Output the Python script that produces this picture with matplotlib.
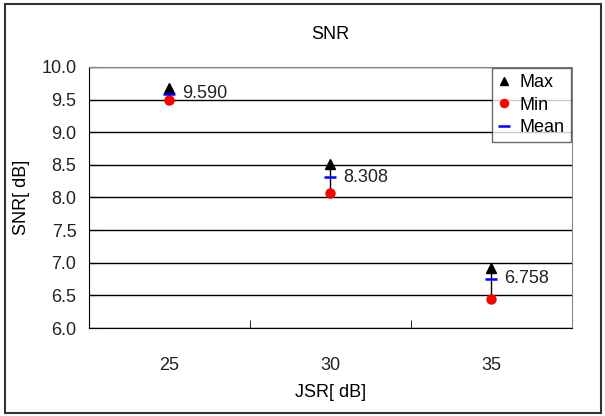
import numpy as np
import matplotlib
matplotlib.use("Agg")
import matplotlib.pyplot as plt
from matplotlib.patches import Rectangle

plt.rcParams['font.family'] = ['Liberation Sans', 'DejaVu Sans']

# data
jsr = ['25', '30', '35']
snr_max = [9.68, 8.51, 6.92]
snr_min = [9.50, 8.07, 6.44]
snr_mean = [9.590, 8.308, 6.758]

fig = plt.figure(figsize=(6.05, 4.16), dpi=100)
ax = fig.add_axes([0.147, 0.2115, 0.798, 0.6275])

x = np.arange(len(jsr))

# min-max line
ax.vlines(x, snr_min, snr_max, color='black', lw=1, zorder=2)
ax.plot(x, snr_max, '^', color='black', ms=6.5, ls='none', label='Max', zorder=3)
ax.plot(x, snr_min, 'o', color='red', ms=6.5, ls='none', label='Min', zorder=3)
ax.plot(x, snr_mean, '_', color='blue', ms=9, mew=1.8, ls='none', label='Mean', zorder=4)

for xi, m in zip(x, snr_mean):
    ax.annotate('%.3f' % m, (xi, m), xytext=(9, 0), textcoords='offset points',
                va='center', ha='left', fontsize=13, color='#222222')

ax.set_xlim(-0.5, 2.5)
ax.set_ylim(6.0, 10.0)
ax.set_yticks(np.arange(6.0, 10.01, 0.5))
ax.set_yticklabels(['%.1f' % v for v in np.arange(6.0, 10.01, 0.5)])
ax.set_xticks(x)
ax.set_xticklabels(jsr)
ax.set_xticks([0.5, 1.5, 2.5], minor=True)
ax.tick_params(axis='x', which='major', length=0, pad=21, labelsize=13, colors='#222222')
ax.tick_params(axis='x', which='minor', direction='in', length=6, color='black')
ax.tick_params(axis='y', direction='in', length=6, labelsize=13, pad=9, colors='black',
               labelcolor='#222222')

ax.grid(axis='y', color='black', lw=1)
ax.set_axisbelow(True)
for s in ['top', 'right']:
    ax.spines[s].set_color('#888888')
for s in ['left', 'bottom']:
    ax.spines[s].set_color('black')

ax.set_title('SNR', fontsize=13, pad=20)
ax.set_xlabel('JSR[ dB]', fontsize=13, labelpad=7)
ax.set_ylabel('SNR[ dB]', fontsize=13, labelpad=8)

leg = ax.legend(loc='upper right', borderaxespad=0.05, fontsize=13, frameon=True,
                fancybox=False, handlelength=0.7, handletextpad=0.5,
                labelspacing=0.3, borderpad=0.35, markerscale=0.9)
leg.get_frame().set_edgecolor('#444444')
leg.get_frame().set_linewidth(1)

# chart border
fig.patches.append(Rectangle((0.008, 0.008), 0.985, 0.982, transform=fig.transFigure,
                             fill=False, edgecolor='#333333', lw=1.5))

fig.savefig('out.png', dpi=100)
